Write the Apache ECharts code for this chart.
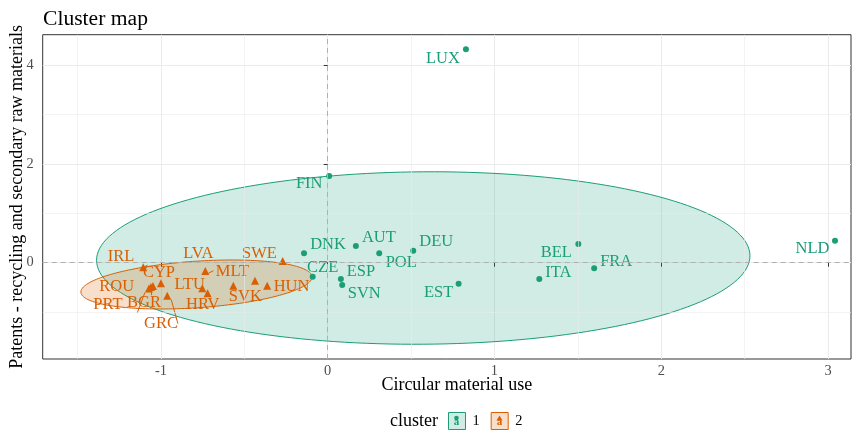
<!DOCTYPE html>
<html><head><meta charset="utf-8">
<script src="https://cdn.jsdelivr.net/npm/echarts@6/dist/echarts.min.js"></script>
<style>html,body{margin:0;padding:0;background:#fff}#c{width:863px;height:430px}</style>
</head><body><div id="c"></div>
<script>
// ---- data ----
const cluster1Names = ['LUX','FIN','DNK','AUT','POL','DEU','CZE','ESP','SVN','EST','BEL','FRA','ITA','NLD'];
const cluster1X = [0.829, 0.009, -0.142, 0.169, 0.309, 0.513, -0.090, 0.079, 0.087, 0.785, 1.503, 1.598, 1.269, 3.042];
const cluster1Y = [4.32, 1.755, 0.19, 0.338, 0.19, 0.243, -0.283, -0.33, -0.453, -0.425, 0.379, -0.113, -0.33, 0.445];
const cluster2Names = ['IRL','CYP','ROU','PRT','BGR','GRC','LVA','LTU','HRV','SVK','MLT','HUN','SWE'];
const cluster2X = [-1.106, -1.0, -1.06, -1.072, -1.048, -0.962, -0.734, -0.752, -0.72, -0.566, -0.436, -0.363, -0.27];
const cluster2Y = [-0.093, -0.417, -0.492, -0.522, -0.472, -0.668, -0.168, -0.518, -0.619, -0.466, -0.364, -0.466, 0.034];
const xTicks = [-1, 0, 1, 2, 3];
const yTicks = [0, 2, 4];
const xMinorGrid = [-1.5, -0.5, 0.5, 1.5, 2.5];
const yMinorGrid = [-1, 1, 3];
const xRange = [-1.709, 3.138];
const yRange = [-1.949, 4.615];
// ellipse (stat_ellipse) parameters: centre x, centre y, half-width x, half-height y, tilt term
const ellipse1 = [0.573, 0.095, 1.959, 1.745, 0.045];
const ellipse2 = [-0.787, -0.441, 0.693, 0.472, 0.152];

// ---- presentation (not data) ----
const FONT = 'Liberation Serif';
const GREEN = '#1B9E77', ORANGE = '#D95F02';
const nudge1 = {LUX:[-23,9.5],FIN:[-20,8],DNK:[24,-9],AUT:[23,-8.5],POL:[22,9],DEU:[23,-8.7],CZE:[10,-9],ESP:[20,-7],SVN:[22,9],EST:[-20,9],BEL:[-22,8.5],FRA:[22,-7],ITA:[19,-6.5],NLD:[-22.5,8]};
const nudge2 = {IRL:[-22.3,-10.6],CYP:[-2,-10.3],ROU:[-34.3,-0.3],PRT:[-41,16],BGR:[-9,17],GRC:[-6.3,28],LVA:[-7,-17.3],LTU:[-12.6,-3.8],HRV:[-4.9,11.2],SVK:[12,10.6],MLT:[-22.5,-8.7],HUN:[24.4,0.6],SWE:[-23.2,-7]};
const segments = ['IRL','ROU','PRT','GRC','LVA'];

function buildPoints(names, xs, ys, nudge) {
  return names.map((n, i) => ({
    name: n,
    value: [xs[i], ys[i]],
    label: { offset: nudge[n] },
    labelLine: { show: segments.indexOf(n) >= 0, smooth: false, lineStyle: { width: 1 } }
  }));
}

function ellipseSeries(name, p, color) {
  return {
    type: 'custom', name: name, z: 1, silent: true,
    data: [[p[0], p[1]]],
    renderItem: function (params, api) {
      const pts = [];
      const n = 180;
      for (let k = 0; k <= n; k++) {
        const t = 2 * Math.PI * k / n;
        pts.push(api.coord([p[0] + p[2] * Math.cos(t), p[1] + p[3] * Math.sin(t) + p[4] * Math.cos(t)]));
      }
      return {
        type: 'polygon',
        shape: { points: pts },
        style: { fill: echarts.color.modifyAlpha(color, 0.2), stroke: color, lineWidth: 1 }
      };
    }
  };
}

function legendGlyph(cx, cy, color, tri) {
  const mark = tri
    ? { type: 'polygon', shape: { points: [[cx, cy - 5], [cx - 3, cy], [cx + 3, cy]] }, style: { fill: color } }
    : { type: 'circle', shape: { cx: cx, cy: cy - 2.5, r: 2.3 }, style: { fill: color } };
  return [
    { type: 'text', x: cx, y: cy + 2, style: { text: 'a', fontFamily: FONT, fontSize: 11, fontWeight: 'bold', fill: color, align: 'center', verticalAlign: 'middle' }, z: 10 },
    Object.assign(mark, { z: 11 })
  ];
}

const chart = echarts.init(document.getElementById('c'), null, { renderer: 'canvas' });
const opt = {
  animation: false,
  backgroundColor: '#fff',
  title: { text: 'Cluster map', left: 38, top: 3,
    textStyle: { fontFamily: FONT, fontSize: 21.6, fontWeight: 'normal', color: '#000' } },
  grid: { left: 42.7, right: 12, top: 34.7, bottom: 71, show: true, borderColor: '#333', borderWidth: 1,
    backgroundColor: 'transparent', containLabel: false, outerBoundsMode: 'none' },
  xAxis: {
    type: 'value', min: xRange[0], max: xRange[1], splitNumber: 5,
    name: 'Circular material use', nameLocation: 'middle', nameGap: 17, nameMoveOverlap: false,
    nameTextStyle: { fontFamily: FONT, fontSize: 18, color: '#000', padding: [0, 0, 0, 20], verticalAlign: 'top' },
    axisLine: { show: false },
    axisTick: { show: true, length: 4, lineStyle: { color: '#333' }, customValues: xTicks },
    axisLabel: { customValues: xTicks, fontFamily: FONT, fontSize: 14.4, color: '#4D4D4D', margin: 5 },
    splitLine: { show: true, lineStyle: { color: '#EBEBEB', width: 1 } }
  },
  yAxis: {
    type: 'value', min: yRange[0], max: yRange[1], splitNumber: 3,
    name: 'Patents - recycling and secondary raw materials', nameLocation: 'middle', nameGap: 16, nameMoveOverlap: false,
    nameTextStyle: { fontFamily: FONT, fontSize: 18, color: '#000' },
    axisLine: { show: false },
    axisTick: { show: true, length: 4, lineStyle: { color: '#333' }, customValues: yTicks },
    axisLabel: { customValues: yTicks, fontFamily: FONT, fontSize: 14.4, color: '#4D4D4D', margin: 9 },
    splitLine: { show: true, lineStyle: { color: '#EBEBEB', width: 1 } }
  },
  legend: {
    left: 448, top: 412, padding: 0, itemWidth: 17, itemHeight: 17, itemGap: 11, selectedMode: false,
    textStyle: { fontFamily: FONT, fontSize: 14.4, color: '#000', padding: [0, 0, 0, 2] },
    data: [
      { name: '1', icon: 'rect', itemStyle: { color: echarts.color.modifyAlpha(GREEN, 0.2), borderColor: GREEN, borderWidth: 1 } },
      { name: '2', icon: 'rect', itemStyle: { color: echarts.color.modifyAlpha(ORANGE, 0.2), borderColor: ORANGE, borderWidth: 1 } }
    ]
  },
  graphic: [
    { type: 'text', left: 390, top: 412, style: { text: 'cluster', fontFamily: FONT, fontSize: 18, fill: '#000' } }
  ].concat(legendGlyph(456.5, 420.5, GREEN, false)).concat(legendGlyph(499.5, 420.5, ORANGE, true)),
  series: [
    {
      type: 'scatter', name: 'grid', z: 0, silent: true, data: [],
      markLine: {
        silent: true, symbol: 'none', animation: false, label: { show: false },
        data: xMinorGrid.map(v => ({ xAxis: v, lineStyle: { color: '#EBEBEB', width: 0.6, type: 'solid' } }))
          .concat(yMinorGrid.map(v => ({ yAxis: v, lineStyle: { color: '#EBEBEB', width: 0.6, type: 'solid' } })))
      }
    },
    {
      type: 'scatter', name: 'zero', z: 2, silent: true, data: [],
      markLine: {
        silent: true, symbol: 'none', animation: false, label: { show: false },
        lineStyle: { color: '#B0B0B0', width: 1, type: [5, 4] },
        data: [{ xAxis: 0 }, { yAxis: 0 }]
      }
    },
    ellipseSeries('e1', ellipse1, GREEN),
    ellipseSeries('e2', ellipse2, ORANGE),
    {
      type: 'scatter', name: '1', z: 3, symbol: 'circle', symbolSize: 6,
      itemStyle: { color: GREEN, opacity: 1 },
      label: { show: true, position: 'inside', formatter: '{b}', fontFamily: FONT, fontSize: 16.5, color: GREEN },
      data: buildPoints(cluster1Names, cluster1X, cluster1Y, nudge1)
    },
    {
      type: 'scatter', name: '2', z: 3, symbol: 'triangle', symbolSize: 8,
      itemStyle: { color: ORANGE, opacity: 1 },
      label: { show: true, position: 'inside', formatter: '{b}', fontFamily: FONT, fontSize: 16.5, color: ORANGE },
      data: buildPoints(cluster2Names, cluster2X, cluster2Y, nudge2)
    }
  ]
};
chart.setOption(opt);
</script></body></html>
